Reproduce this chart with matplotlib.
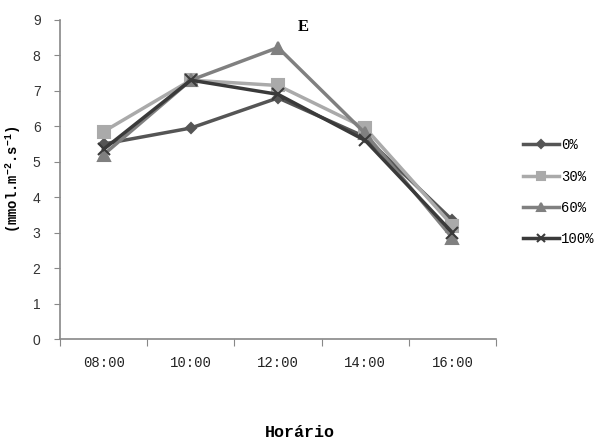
import numpy as np
import matplotlib.pyplot as plt

plt.rcParams['mathtext.fontset'] = 'custom'
plt.rcParams['mathtext.rm'] = 'Liberation Mono:bold'
plt.rcParams['mathtext.it'] = 'Liberation Mono:bold'
plt.rcParams['mathtext.bf'] = 'Liberation Mono:bold'

horarios = ['08:00', '10:00', '12:00', '14:00', '16:00']
e_0 = [5.5, 5.95, 6.8, 5.7, 3.35]
e_30 = [5.85, 7.3, 7.15, 5.95, 3.2]
e_60 = [5.2, 7.3, 8.22, 5.8, 2.85]
e_100 = [5.35, 7.3, 6.9, 5.6, 3.0]

series = [
    ('0%', e_0, '#555555', 'D', 5),
    ('30%', e_30, '#aaaaaa', 's', 8),
    ('60%', e_60, '#808080', '^', 8),
    ('100%', e_100, '#3a3a3a', 'x', 8),
]

fig = plt.figure(figsize=(6.03, 4.42), dpi=100)
ax = fig.add_axes([0.0995, 0.233, 0.7231, 0.722])

x = np.arange(len(horarios))
for nome, vals, cor, mk, ms in series:
    ax.plot(x, vals, color=cor, lw=2.5, marker=mk, ms=ms, mew=1.5,
            mec=cor, mfc=cor, label=nome)

ax.set_xlim(-0.5, len(horarios) - 0.5)
ax.set_ylim(0, 9)
ax.set_yticks(range(10))
ax.set_xticks(np.arange(-0.5, len(horarios), 1.0))
ax.set_xticklabels([])
ax.set_xticks(x, minor=True)
ax.set_xticklabels(horarios, minor=True, fontfamily='Liberation Mono',
                   fontsize=10, color='#222222')
ax.tick_params(axis='x', which='minor', length=0, pad=12)
ax.tick_params(axis='x', which='major', length=5, color='#888888', direction='out')
ax.tick_params(axis='y', length=4, color='#888888', direction='out',
               labelsize=10, labelcolor='#333333', pad=10)
for lbl in ax.get_yticklabels():
    lbl.set_fontfamily('Liberation Sans')

for s in ['top', 'right']:
    ax.spines[s].set_visible(False)
for s in ['left', 'bottom']:
    ax.spines[s].set_color('#888888')
    ax.spines[s].set_linewidth(1.2)

ax.set_ylabel('(mmol.m$^{-2}$.s$^{-1}$)', fontfamily='Liberation Mono',
              fontweight='bold', fontsize=10)
ax.yaxis.set_label_coords(-0.085, 0.5)

fig.text(0.503, 0.938, 'E', fontfamily='Liberation Serif', fontweight='bold',
         fontsize=12, ha='center', va='center')
fig.text(0.497, 0.022, 'Horário', fontfamily='Liberation Mono',
         fontweight='bold', fontsize=12, ha='center', va='center')

leg = fig.legend(loc='center left', bbox_to_anchor=(0.847, 0.565), frameon=False,
                 prop={'family': 'Liberation Mono', 'size': 10},
                 handlelength=2.6, handletextpad=0.15, labelspacing=1.25,
                 markerscale=0.8)

fig.savefig('out.png', dpi=100)
